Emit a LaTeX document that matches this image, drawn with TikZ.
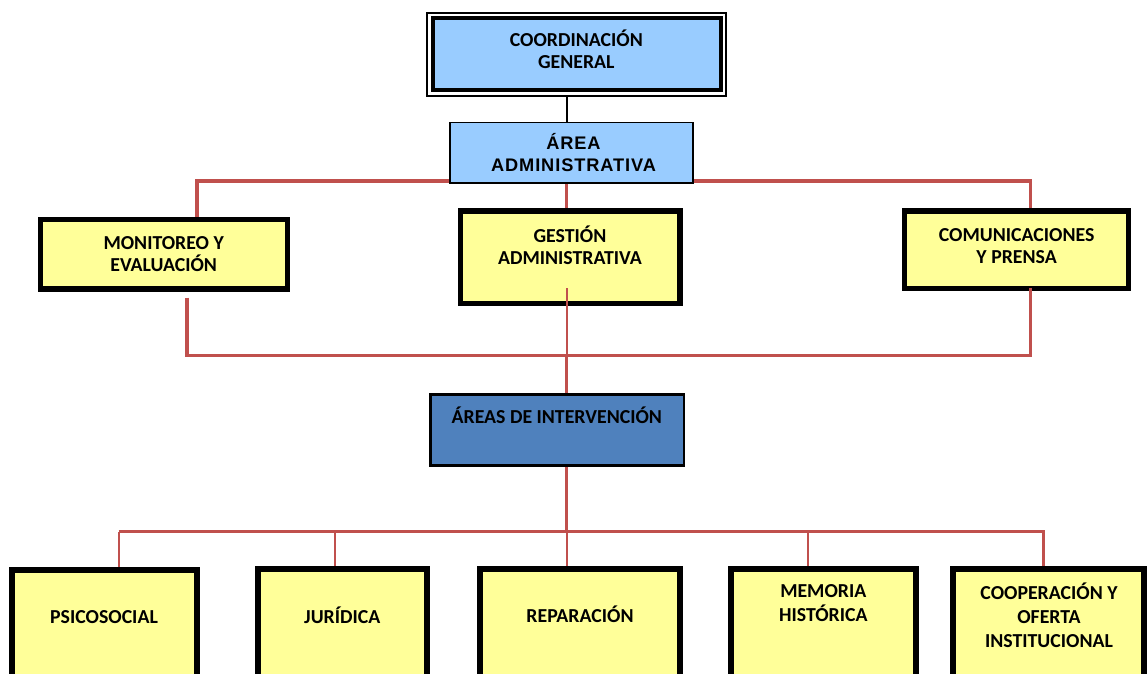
\documentclass[tikz,border=0pt]{standalone}
\usepackage{fontspec}
\setmainfont{Carlito}
\newfontfamily\arialb{Liberation Sans}[LetterSpace=5]
\usetikzlibrary{backgrounds}
\definecolor{cline}{HTML}{C0504D}
\definecolor{lblue}{HTML}{99CCFF}
\definecolor{lyel}{HTML}{FFFF99}
\definecolor{dblue}{HTML}{4F81BD}
\begin{document}
\begin{tikzpicture}[x=1pt,y=-1pt,
  every node/.style={inner sep=0pt,outer sep=0pt},
  ybox/.style={draw=black,fill=lyel,line width=5.5pt,rectangle},
  bbox/.style={draw=black,fill=lyel,line width=6pt,rectangle},
  txt/.style={font=\bfseries\fontsize{19.8}{22.5}\selectfont,align=center},
  btxt/.style={font=\bfseries\fontsize{19.8}{24}\selectfont,align=center},
  rthick/.style={draw=cline,line width=3.5pt},
  rthin/.style={draw=cline,line width=2.2pt},
]
\useasboundingbox (0,0) rectangle (1147,673);

% junction coordinates
\coordinate (spine) at (566.6,0);
\coordinate (bus1L) at (197,181);
\coordinate (bus1R) at (1030.5,181);
\coordinate (bus1E) at (1032.2,181);
\coordinate (bus2L) at (187,355.5);
\coordinate (bus2R) at (1030.5,355.5);
\coordinate (bus3L) at (118.7,531.5);
\coordinate (bus3R) at (1043.3,531.5);
\coordinate (jx) at (334.7,531.5);
\coordinate (mx) at (807.8,531.5);
\coordinate (m2) at (187,297.7);
\coordinate (c2) at (1030.5,288);
\coordinate (g2) at (566.6,288);

% boxes
\node[draw,line width=2pt,fill=white,minimum width=299.3pt,minimum height=82.8pt] (coordbox) at (576.6,54.1) {};
\node[draw,line width=4pt,fill=lblue,minimum width=288pt,minimum height=71.5pt] (coord) at (576.6,53.75) {};
\node[draw,line width=1.6pt,fill=lblue,minimum width=243.5pt,minimum height=60.5pt] (areaadm) at (571.5,152.7) {};
\node[ybox,minimum width=246.8pt,minimum height=69.5pt] (monit) at (163.9,254.2) {};
\node[ybox,minimum width=219.5pt,minimum height=92.2pt] (gest) at (570.2,257.2) {};
\node[ybox,minimum width=223.8pt,minimum height=77.2pt] (comun) at (1016.4,249.7) {};
\node[draw,line width=2.5pt,fill=dblue,minimum width=253.2pt,minimum height=70.9pt] (areasint) at (557.2,430) {};
\node[bbox,minimum width=185pt,minimum height=150pt] (psico) at (104.5,645.3) {};
\node[bbox,minimum width=169pt,minimum height=150pt] (jurid) at (342.5,643.7) {};
\node[bbox,minimum width=200.6pt,minimum height=150pt] (repar) at (580,643.7) {};
\node[bbox,minimum width=185.3pt,minimum height=150pt] (memo) at (823.35,643.7) {};
\node[bbox,minimum width=191pt,minimum height=150pt] (coop) at (1048.5,643.7) {};

% texts
\node[txt] (coordT) at (576.3,49.2) {COORDINACIÓN\\GENERAL};
\node[font=\arialb\bfseries\fontsize{18.2}{22.5}\selectfont,align=center] (areaadmT) at (573.5,152.6) {ÁREA\\ADMINISTRATIVA};
\node[txt] (monitT) at (163.7,254.25) {MONITOREO Y\\EVALUACIÓN};
\node[txt] (gestT) at (569.9,245) {GESTIÓN\\ADMINISTRATIVA};
\node[txt] (comunT) at (1016.6,246.25) {COMUNICACIONES\\Y PRENSA};
\node[txt] (areasT) at (556.8,415) {ÁREAS DE INTERVENCIÓN};
\node[btxt] (psicoT) at (104,617) {PSICOSOCIAL};
\node[btxt] (juridT) at (342.3,615) {JURÍDICA};
\node[btxt] (reparT) at (580,614.6) {REPARACIÓN};
\node[btxt] (memT) at (823.3,603.4) {MEMORIA\\HISTÓRICA};
\node[btxt] (coopT) at (1049,615.2) {COOPERACIÓN Y\\OFERTA\\INSTITUCIONAL};

% connectors behind boxes
\begin{scope}[on background layer]
\draw[line width=2pt] (spine |- coordbox.south) -- (spine |- areaadm.north);
\draw[rthick] (bus1L |- monit.north) -- (bus1L) -- (bus1E);
\draw[rthin] (bus1R) -- (bus1R |- comun.north);
\draw[rthick] (spine |- areaadm.south) -- (spine |- gest.north);
\draw[rthick] (m2) -- (bus2L) -- (bus2R) -- (c2);
\draw[rthick] (spine |- bus2L) -- (spine |- areasint.north);
\draw[rthick] (spine |- areasint.south) -- (spine |- bus3L);
\draw[rthin] (spine |- bus3L) -- (spine |- repar.north);
\draw[rthick] (bus3L) -- (bus3R) -- (bus3R |- coop.north);
\draw[rthin] (bus3L) -- (bus3L |- psico.north);
\draw[rthin] (jx) -- (jx |- jurid.north);
\draw[rthin] (mx) -- (mx |- memo.north);
\end{scope}
% connectors over boxes
\draw[rthin] (g2) -- (spine |- bus2L);
\draw[rthick] (c2) -- (bus2R);
\end{tikzpicture}
\end{document}
